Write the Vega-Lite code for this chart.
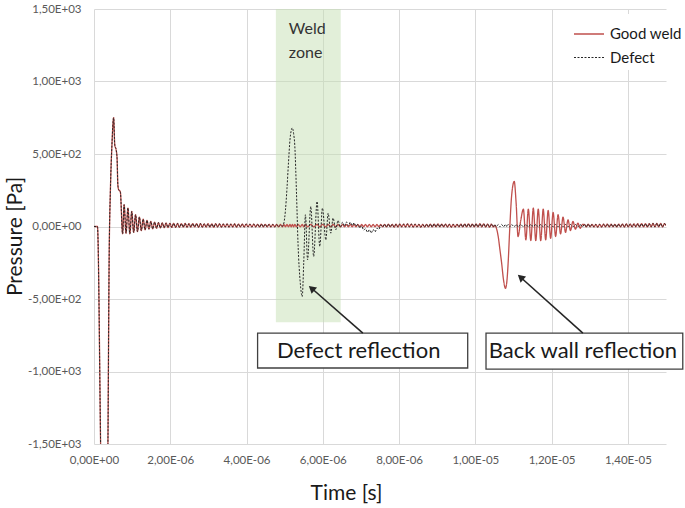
{
"$schema": "https://vega.github.io/schema/vega-lite/v6.json",
"width": 572, "height": 435,
"autosize": {"type": "none"},
"padding": {"left": 94, "top": 9, "right": 19, "bottom": 64},
"config": {"view": {"stroke": null}, "font": "Lato"},
"datasets": {
"signal": [
{"t":0,"Good weld":0,"Defect":0},
{"t":0.09e-6,"Good weld":0,"Defect":0},
{"t":0.19e-6,"Good weld":-1800,"Defect":-1800},
{"t":0.27e-6,"Good weld":-2600,"Defect":-2600},
{"t":0.355e-6,"Good weld":-1800,"Defect":-1800},
{"t":0.40e-6,"Good weld":-150,"Defect":-150},
{"t":0.43e-6,"Good weld":250,"Defect":250},
{"t":0.47e-6,"Good weld":560,"Defect":560},
{"t":0.515e-6,"Good weld":750,"Defect":750},
{"t":0.545e-6,"Good weld":560,"Defect":560},
{"t":0.58e-6,"Good weld":530,"Defect":530},
{"t":0.605e-6,"Good weld":470,"Defect":470},
{"t":0.625e-6,"Good weld":290,"Defect":290},
{"t":0.645e-6,"Good weld":255,"Defect":255},
{"t":0.69e-6,"Good weld":240,"Defect":240},
{"t":0.75e-6,"Good weld":-50,"Defect":-50},
{"t":0.79e-6,"Good weld":150,"Defect":150},
{"t":0.84e-6,"Good weld":-46,"Defect":-46},
{"t":0.89e-6,"Good weld":127,"Defect":127},
{"t":0.94e-6,"Good weld":-50,"Defect":-50},
{"t":0.99e-6,"Good weld":104,"Defect":104},
{"t":1.04e-6,"Good weld":-41,"Defect":-41},
{"t":1.09e-6,"Good weld":81,"Defect":81},
{"t":1.14e-6,"Good weld":-35,"Defect":-35},
{"t":1.19e-6,"Good weld":65,"Defect":65},
{"t":1.24e-6,"Good weld":-28,"Defect":-28},
{"t":1.29e-6,"Good weld":51,"Defect":51},
{"t":1.34e-6,"Good weld":-23,"Defect":-23},
{"t":1.39e-6,"Good weld":42,"Defect":42},
{"t":1.44e-6,"Good weld":-18,"Defect":-18},
{"t":1.49e-6,"Good weld":35,"Defect":35},
{"t":1.54e-6,"Good weld":-16,"Defect":-16},
{"t":1.59e-6,"Good weld":30,"Defect":30},
{"t":1.64e-6,"Good weld":-12,"Defect":-12},
{"t":1.69e-6,"Good weld":27,"Defect":27},
{"t":1.74e-6,"Good weld":-10,"Defect":-10},
{"t":1.79e-6,"Good weld":25,"Defect":25},
{"t":1.84e-6,"Good weld":-8,"Defect":-8},
{"t":1.89e-6,"Good weld":24,"Defect":24},
{"t":1.94e-6,"Good weld":-7,"Defect":-7},
{"t":1.99e-6,"Good weld":22,"Defect":22},
{"t":2.04e-6,"Good weld":-6,"Defect":-6},
{"t":2.09e-6,"Good weld":22,"Defect":22},
{"t":2.14e-6,"Good weld":-6,"Defect":-6},
{"t":2.19e-6,"Good weld":21,"Defect":21},
{"t":2.24e-6,"Good weld":-5,"Defect":-5},
{"t":2.29e-6,"Good weld":20,"Defect":20},
{"t":2.34e-6,"Good weld":-4,"Defect":-4},
{"t":2.39e-6,"Good weld":21,"Defect":21},
{"t":2.44e-6,"Good weld":-5,"Defect":-5},
{"t":2.49e-6,"Good weld":19,"Defect":19},
{"t":2.54e-6,"Good weld":-4,"Defect":-4},
{"t":2.59e-6,"Good weld":20,"Defect":20},
{"t":2.64e-6,"Good weld":-3,"Defect":-3},
{"t":2.69e-6,"Good weld":19,"Defect":19},
{"t":2.74e-6,"Good weld":-5,"Defect":-5},
{"t":2.79e-6,"Good weld":20,"Defect":20},
{"t":2.84e-6,"Good weld":-4,"Defect":-4},
{"t":2.89e-6,"Good weld":18,"Defect":18},
{"t":2.94e-6,"Good weld":-3,"Defect":-3},
{"t":2.99e-6,"Good weld":19,"Defect":19},
{"t":3.04e-6,"Good weld":-4,"Defect":-4},
{"t":3.09e-6,"Good weld":18,"Defect":18},
{"t":3.14e-6,"Good weld":-5,"Defect":-5},
{"t":3.19e-6,"Good weld":19,"Defect":19},
{"t":3.24e-6,"Good weld":-3,"Defect":-3},
{"t":3.29e-6,"Good weld":18,"Defect":18},
{"t":3.34e-6,"Good weld":-4,"Defect":-4},
{"t":3.39e-6,"Good weld":17,"Defect":17},
{"t":3.44e-6,"Good weld":-3,"Defect":-3},
{"t":3.49e-6,"Good weld":18,"Defect":18},
{"t":3.54e-6,"Good weld":-4,"Defect":-4},
{"t":3.59e-6,"Good weld":17,"Defect":17},
{"t":3.64e-6,"Good weld":-3,"Defect":-3},
{"t":3.69e-6,"Good weld":18,"Defect":18},
{"t":3.74e-6,"Good weld":-4,"Defect":-4},
{"t":3.79e-6,"Good weld":17,"Defect":17},
{"t":3.84e-6,"Good weld":-2,"Defect":-2},
{"t":3.89e-6,"Good weld":16,"Defect":16},
{"t":3.94e-6,"Good weld":-3,"Defect":-3},
{"t":3.99e-6,"Good weld":17,"Defect":17},
{"t":4.04e-6,"Good weld":-2,"Defect":-2},
{"t":4.09e-6,"Good weld":16,"Defect":16},
{"t":4.14e-6,"Good weld":-3,"Defect":-3},
{"t":4.19e-6,"Good weld":16,"Defect":16},
{"t":4.24e-6,"Good weld":-2,"Defect":-2},
{"t":4.29e-6,"Good weld":15,"Defect":15},
{"t":4.34e-6,"Good weld":-3,"Defect":-3},
{"t":4.39e-6,"Good weld":16,"Defect":16},
{"t":4.44e-6,"Good weld":-2,"Defect":-2},
{"t":4.49e-6,"Good weld":15,"Defect":15},
{"t":4.54e-6,"Good weld":-2,"Defect":-2},
{"t":4.59e-6,"Good weld":15,"Defect":15},
{"t":4.64e-6,"Good weld":-3,"Defect":-3},
{"t":4.69e-6,"Good weld":14,"Defect":14},
{"t":4.74e-6,"Good weld":-2,"Defect":-2},
{"t":4.79e-6,"Good weld":14,"Defect":14},
{"t":4.84e-6,"Good weld":-2,"Defect":-2},
{"t":4.89e-6,"Good weld":14,"Defect":10},
{"t":4.94e-6,"Good weld":-2,"Defect":2},
{"t":4.98e-6,"Good weld":14,"Defect":25},
{"t":5.02e-6,"Good weld":-2,"Defect":110},
{"t":5.06e-6,"Good weld":14,"Defect":260},
{"t":5.10e-6,"Good weld":-2,"Defect":440},
{"t":5.14e-6,"Good weld":14,"Defect":600},
{"t":5.17e-6,"Good weld":-2,"Defect":660},
{"t":5.20e-6,"Good weld":14,"Defect":680},
{"t":5.235e-6,"Good weld":-2,"Defect":640},
{"t":5.265e-6,"Good weld":14,"Defect":560},
{"t":5.31e-6,"Good weld":-2,"Defect":231},
{"t":5.35e-6,"Good weld":14,"Defect":-115},
{"t":5.41e-6,"Good weld":-2,"Defect":-391},
{"t":5.46e-6,"Good weld":14,"Defect":-484},
{"t":5.50e-6,"Good weld":-2,"Defect":-250},
{"t":5.545e-6,"Good weld":14,"Defect":81},
{"t":5.60e-6,"Good weld":-2,"Defect":-230},
{"t":5.685e-6,"Good weld":14,"Defect":138},
{"t":5.76e-6,"Good weld":-2,"Defect":-207},
{"t":5.85e-6,"Good weld":14,"Defect":173},
{"t":5.92e-6,"Good weld":-2,"Defect":-138},
{"t":5.99e-6,"Good weld":14,"Defect":127},
{"t":6.08e-6,"Good weld":-2,"Defect":-92},
{"t":6.14e-6,"Good weld":14,"Defect":92},
{"t":6.21e-6,"Good weld":-2,"Defect":-46},
{"t":6.27e-6,"Good weld":14,"Defect":58},
{"t":6.34e-6,"Good weld":-2,"Defect":-23},
{"t":6.40e-6,"Good weld":14,"Defect":41},
{"t":6.46e-6,"Good weld":-2,"Defect":-5},
{"t":6.52e-6,"Good weld":14,"Defect":30},
{"t":6.57e-6,"Good weld":-2,"Defect":2},
{"t":6.62e-6,"Good weld":14,"Defect":32},
{"t":6.67e-6,"Good weld":-2,"Defect":5},
{"t":6.72e-6,"Good weld":14,"Defect":30},
{"t":6.77e-6,"Good weld":-2,"Defect":6},
{"t":6.82e-6,"Good weld":14,"Defect":25},
{"t":6.87e-6,"Good weld":-2,"Defect":3},
{"t":6.92e-6,"Good weld":14,"Defect":15},
{"t":6.97e-6,"Good weld":-2,"Defect":-10},
{"t":7.02e-6,"Good weld":14,"Defect":5},
{"t":7.07e-6,"Good weld":-2,"Defect":-25},
{"t":7.12e-6,"Good weld":14,"Defect":-15},
{"t":7.17e-6,"Good weld":-2,"Defect":-40},
{"t":7.22e-6,"Good weld":14,"Defect":-22},
{"t":7.27e-6,"Good weld":-2,"Defect":-45},
{"t":7.32e-6,"Good weld":14,"Defect":-20},
{"t":7.37e-6,"Good weld":-2,"Defect":-38},
{"t":7.42e-6,"Good weld":14,"Defect":-12},
{"t":7.47e-6,"Good weld":-2,"Defect":-20},
{"t":7.52e-6,"Good weld":14,"Defect":10},
{"t":7.57e-6,"Good weld":-2,"Defect":-3},
{"t":7.62e-6,"Good weld":15,"Defect":15},
{"t":7.67e-6,"Good weld":-3,"Defect":-3},
{"t":7.72e-6,"Good weld":16,"Defect":16},
{"t":7.77e-6,"Good weld":-2,"Defect":-2},
{"t":7.82e-6,"Good weld":15,"Defect":15},
{"t":7.87e-6,"Good weld":-4,"Defect":-4},
{"t":7.92e-6,"Good weld":16,"Defect":16},
{"t":7.97e-6,"Good weld":-3,"Defect":-3},
{"t":8.02e-6,"Good weld":17,"Defect":17},
{"t":8.07e-6,"Good weld":-2,"Defect":-2},
{"t":8.12e-6,"Good weld":16,"Defect":16},
{"t":8.17e-6,"Good weld":-3,"Defect":-3},
{"t":8.22e-6,"Good weld":18,"Defect":18},
{"t":8.27e-6,"Good weld":-2,"Defect":-2},
{"t":8.32e-6,"Good weld":17,"Defect":17},
{"t":8.37e-6,"Good weld":-4,"Defect":-4},
{"t":8.42e-6,"Good weld":16,"Defect":16},
{"t":8.47e-6,"Good weld":-3,"Defect":-3},
{"t":8.52e-6,"Good weld":15,"Defect":15},
{"t":8.57e-6,"Good weld":-4,"Defect":-4},
{"t":8.62e-6,"Good weld":14,"Defect":14},
{"t":8.67e-6,"Good weld":-3,"Defect":-3},
{"t":8.72e-6,"Good weld":15,"Defect":15},
{"t":8.77e-6,"Good weld":-2,"Defect":-2},
{"t":8.82e-6,"Good weld":16,"Defect":16},
{"t":8.87e-6,"Good weld":-3,"Defect":-3},
{"t":8.92e-6,"Good weld":17,"Defect":17},
{"t":8.97e-6,"Good weld":-2,"Defect":-2},
{"t":9.02e-6,"Good weld":18,"Defect":18},
{"t":9.07e-6,"Good weld":-3,"Defect":-3},
{"t":9.12e-6,"Good weld":17,"Defect":17},
{"t":9.17e-6,"Good weld":-2,"Defect":-2},
{"t":9.22e-6,"Good weld":16,"Defect":16},
{"t":9.27e-6,"Good weld":-3,"Defect":-3},
{"t":9.32e-6,"Good weld":15,"Defect":15},
{"t":9.37e-6,"Good weld":-4,"Defect":-4},
{"t":9.42e-6,"Good weld":14,"Defect":14},
{"t":9.47e-6,"Good weld":-3,"Defect":-3},
{"t":9.52e-6,"Good weld":15,"Defect":15},
{"t":9.57e-6,"Good weld":-2,"Defect":-2},
{"t":9.62e-6,"Good weld":16,"Defect":16},
{"t":9.67e-6,"Good weld":-3,"Defect":-3},
{"t":9.72e-6,"Good weld":17,"Defect":17},
{"t":9.77e-6,"Good weld":-2,"Defect":-2},
{"t":9.82e-6,"Good weld":18,"Defect":18},
{"t":9.87e-6,"Good weld":-3,"Defect":-3},
{"t":9.92e-6,"Good weld":17,"Defect":17},
{"t":9.97e-6,"Good weld":-2,"Defect":-2},
{"t":10.02e-6,"Good weld":18,"Defect":18},
{"t":10.07e-6,"Good weld":-3,"Defect":-3},
{"t":10.12e-6,"Good weld":19,"Defect":19},
{"t":10.17e-6,"Good weld":-2,"Defect":-2},
{"t":10.22e-6,"Good weld":18,"Defect":18},
{"t":10.27e-6,"Good weld":-3,"Defect":-3},
{"t":10.32e-6,"Good weld":17,"Defect":17},
{"t":10.37e-6,"Good weld":-4,"Defect":-4},
{"t":10.42e-6,"Good weld":16,"Defect":16},
{"t":10.47e-6,"Good weld":-3,"Defect":-3},
{"t":10.51e-6,"Good weld":8,"Defect":14},
{"t":10.55e-6,"Good weld":-10,"Defect":-2},
{"t":10.60e-6,"Good weld":-69,"Defect":14},
{"t":10.645e-6,"Good weld":-160,"Defect":-2},
{"t":10.69e-6,"Good weld":-253,"Defect":14},
{"t":10.74e-6,"Good weld":-370,"Defect":-2},
{"t":10.79e-6,"Good weld":-426,"Defect":14},
{"t":10.83e-6,"Good weld":-370,"Defect":-2},
{"t":10.86e-6,"Good weld":-253,"Defect":14},
{"t":10.905e-6,"Good weld":0,"Defect":-2},
{"t":10.95e-6,"Good weld":207,"Defect":14},
{"t":11.02e-6,"Good weld":311,"Defect":-2},
{"t":11.07e-6,"Good weld":161,"Defect":14},
{"t":11.12e-6,"Good weld":-69,"Defect":-2},
{"t":11.19e-6,"Good weld":40,"Defect":14},
{"t":11.26e-6,"Good weld":120,"Defect":-2},
{"t":11.325e-6,"Good weld":-92,"Defect":14},
{"t":11.39e-6,"Good weld":120,"Defect":-2},
{"t":11.455e-6,"Good weld":-97,"Defect":14},
{"t":11.52e-6,"Good weld":127,"Defect":-2},
{"t":11.585e-6,"Good weld":-97,"Defect":14},
{"t":11.65e-6,"Good weld":120,"Defect":-2},
{"t":11.715e-6,"Good weld":-97,"Defect":14},
{"t":11.78e-6,"Good weld":120,"Defect":-2},
{"t":11.845e-6,"Good weld":-92,"Defect":14},
{"t":11.91e-6,"Good weld":111,"Defect":-2},
{"t":11.975e-6,"Good weld":-81,"Defect":14},
{"t":12.04e-6,"Good weld":97,"Defect":-2},
{"t":12.105e-6,"Good weld":-69,"Defect":14},
{"t":12.17e-6,"Good weld":81,"Defect":-2},
{"t":12.235e-6,"Good weld":-51,"Defect":14},
{"t":12.30e-6,"Good weld":65,"Defect":-2},
{"t":12.365e-6,"Good weld":-41,"Defect":14},
{"t":12.43e-6,"Good weld":46,"Defect":-2},
{"t":12.495e-6,"Good weld":-28,"Defect":14},
{"t":12.56e-6,"Good weld":35,"Defect":-2},
{"t":12.625e-6,"Good weld":-18,"Defect":14},
{"t":12.69e-6,"Good weld":23,"Defect":-2},
{"t":12.75e-6,"Good weld":-12,"Defect":14},
{"t":12.81e-6,"Good weld":14,"Defect":-2},
{"t":12.86e-6,"Good weld":15,"Defect":15},
{"t":12.91e-6,"Good weld":-3,"Defect":-3},
{"t":12.96e-6,"Good weld":16,"Defect":16},
{"t":13.01e-6,"Good weld":-2,"Defect":-2},
{"t":13.06e-6,"Good weld":15,"Defect":15},
{"t":13.11e-6,"Good weld":-3,"Defect":-3},
{"t":13.16e-6,"Good weld":14,"Defect":14},
{"t":13.21e-6,"Good weld":-4,"Defect":-4},
{"t":13.26e-6,"Good weld":15,"Defect":15},
{"t":13.31e-6,"Good weld":-3,"Defect":-3},
{"t":13.36e-6,"Good weld":16,"Defect":16},
{"t":13.41e-6,"Good weld":-2,"Defect":-2},
{"t":13.46e-6,"Good weld":17,"Defect":17},
{"t":13.51e-6,"Good weld":-3,"Defect":-3},
{"t":13.56e-6,"Good weld":16,"Defect":16},
{"t":13.61e-6,"Good weld":-2,"Defect":-2},
{"t":13.66e-6,"Good weld":15,"Defect":15},
{"t":13.71e-6,"Good weld":-3,"Defect":-3},
{"t":13.76e-6,"Good weld":16,"Defect":16},
{"t":13.81e-6,"Good weld":-2,"Defect":-2},
{"t":13.86e-6,"Good weld":17,"Defect":17},
{"t":13.91e-6,"Good weld":-3,"Defect":-3},
{"t":13.96e-6,"Good weld":18,"Defect":18},
{"t":14.01e-6,"Good weld":-2,"Defect":-2},
{"t":14.06e-6,"Good weld":17,"Defect":17},
{"t":14.11e-6,"Good weld":-3,"Defect":-3},
{"t":14.16e-6,"Good weld":18,"Defect":18},
{"t":14.21e-6,"Good weld":-2,"Defect":-2},
{"t":14.26e-6,"Good weld":19,"Defect":19},
{"t":14.31e-6,"Good weld":-3,"Defect":-3},
{"t":14.36e-6,"Good weld":20,"Defect":20},
{"t":14.41e-6,"Good weld":-2,"Defect":-2},
{"t":14.46e-6,"Good weld":19,"Defect":19},
{"t":14.51e-6,"Good weld":-3,"Defect":-3},
{"t":14.56e-6,"Good weld":20,"Defect":20},
{"t":14.61e-6,"Good weld":-2,"Defect":-2},
{"t":14.66e-6,"Good weld":21,"Defect":21},
{"t":14.71e-6,"Good weld":-3,"Defect":-3},
{"t":14.76e-6,"Good weld":22,"Defect":22},
{"t":14.81e-6,"Good weld":-2,"Defect":-2},
{"t":14.86e-6,"Good weld":21,"Defect":21},
{"t":14.91e-6,"Good weld":-3,"Defect":-3},
{"t":14.96e-6,"Good weld":20,"Defect":20},
{"t":15.0e-6,"Good weld":5,"Defect":5}
],
"zone": [{"t1":4.77e-6,"t2":6.47e-6,"p1":-660,"p2":1500}],
"zonelabel": [{"t":5.11e-6,"p":1360,"label":"Weld"},{"t":5.11e-6,"p":1195,"label":"zone"}],
"boxes": [
{"t1":4.29e-6,"t2":9.80e-6,"p1":-735,"p2":-976,"tc":6.94e-6,"pc":-857,"label":"Defect reflection"},
{"t1":10.28e-6,"t2":15.44e-6,"p1":-735,"p2":-983,"tc":12.82e-6,"pc":-859,"label":"Back wall reflection"}
],
"arrows": [
{"t1":7.05e-6,"p1":-735,"t2":5.706e-6,"p2":-426},
{"t1":12.82e-6,"p1":-735,"t2":11.186e-6,"p2":-350}
]
},
"layer": [
{
"data": {"name": "zone"},
"mark": {"type": "rect", "fill": "#c6e0b4", "opacity": 0.5},
"encoding": {
"x": {"field": "t1", "type": "quantitative", "scale": {"domain": [0, 1.5e-5], "nice": false, "zero": false},
"axis": {"title": "Time [s]", "values": [0, 2e-6, 4e-6, 6e-6, 8e-6, 1e-5, 1.2e-5, 1.4e-5],
"labelExpr": "replace(replace(replace(format(datum.value,'.2e'),'.',','),'e-','E-0'),'e+','E+0')",
"grid": true, "gridColor": "#d9d9d9", "gridWidth": 1, "domain": false, "ticks": false, "labelFlush": false,
"labelFont": "Lato", "labelFontSize": 11.5, "labelColor": "#595959", "labelPadding": 10,
"titleFont": "Lato", "titleFontSize": 21, "titleFontWeight": "normal", "titleColor": "#1a1a1a",
"titleX": 252, "titleY": 49, "titleBaseline": "middle", "titleAlign": "center", "titleAnchor": null}},
"x2": {"field": "t2"},
"y": {"field": "p1", "type": "quantitative", "scale": {"domain": [-1500, 1500], "nice": false, "zero": false},
"axis": {"title": "Pressure [Pa]", "values": [-1500, -1000, -500, 0, 500, 1000, 1500],
"labelExpr": "replace(replace(replace(replace(format(datum.value,'.2e'),'.',','),'e-','E-0'),'e+','E+0'),'\u2212','-')",
"grid": true, "gridColor": "#d9d9d9", "gridWidth": 1, "domain": false, "ticks": false, "labelFlush": false,
"labelFont": "Lato", "labelFontSize": 11.5, "labelColor": "#595959", "labelPadding": 13,
"titleFont": "Lato", "titleFontSize": 21, "titleFontWeight": "normal", "titleColor": "#1a1a1a",
"titleX": -79, "titleY": 227, "titleAngle": -90, "titleBaseline": "middle", "titleAlign": "center", "titleAnchor": null}},
"y2": {"field": "p2"}
}
},
{
"data": {"name": "signal"},
"transform": [{"fold": ["Good weld", "Defect"], "as": ["series", "p"]}],
"mark": {"type": "line", "clip": true, "interpolate": "monotone"},
"encoding": {
"x": {"field": "t", "type": "quantitative", "scale": {"domain": [0, 1.5e-5], "nice": false, "zero": false}},
"y": {"field": "p", "type": "quantitative", "scale": {"domain": [-1500, 1500], "nice": false, "zero": false}},
"color": {"field": "series", "type": "nominal", "sort": ["Good weld", "Defect"],
"scale": {"domain": ["Good weld", "Defect"], "range": ["#c0504d", "#262626"]},
"legend": {"title": null, "orient": "none", "legendX": 475, "legendY": 5, "fillColor": "white", "padding": 4,
"symbolType": "stroke", "symbolSize": 900, "symbolStrokeWidth": 1.3, "labelFont": "Lato", "labelFontSize": 15,
"labelColor": "#1a1a1a", "rowPadding": -8, "labelOffset": 5}},
"strokeDash": {"field": "series", "type": "nominal", "sort": ["Good weld", "Defect"],
"scale": {"domain": ["Good weld", "Defect"], "range": [[1, 0], [2, 1.5]]},
"legend": {"title": null, "orient": "none", "legendX": 475, "legendY": 5, "fillColor": "white", "padding": 4,
"symbolType": "stroke", "symbolSize": 900, "symbolStrokeWidth": 1.3, "labelFont": "Lato", "labelFontSize": 15,
"labelColor": "#1a1a1a", "rowPadding": -8, "labelOffset": 5}},
"strokeWidth": {"field": "series", "type": "nominal", "scale": {"domain": ["Good weld", "Defect"], "range": [1.3, 1]}, "legend": null}
}
},
{
"data": {"name": "boxes"},
"mark": {"type": "rect", "fill": "white", "stroke": "#404040", "strokeWidth": 1.3},
"encoding": {
"x": {"field": "t1", "type": "quantitative", "scale": {"domain": [0, 1.5e-5], "nice": false, "zero": false}},
"x2": {"field": "t2"},
"y": {"field": "p1", "type": "quantitative", "scale": {"domain": [-1500, 1500], "nice": false, "zero": false}},
"y2": {"field": "p2"}
}
},
{
"data": {"name": "boxes"},
"mark": {"type": "text", "font": "Lato", "fontSize": 22, "color": "#1a1a1a", "align": "center", "baseline": "middle"},
"encoding": {
"x": {"field": "tc", "type": "quantitative", "scale": {"domain": [0, 1.5e-5], "nice": false, "zero": false}},
"y": {"field": "pc", "type": "quantitative", "scale": {"domain": [-1500, 1500], "nice": false, "zero": false}},
"text": {"field": "label"}
}
},
{
"data": {"name": "arrows"},
"mark": {"type": "rule", "color": "#262626", "strokeWidth": 1.6},
"encoding": {
"x": {"field": "t1", "type": "quantitative", "scale": {"domain": [0, 1.5e-5], "nice": false, "zero": false}},
"y": {"field": "p1", "type": "quantitative", "scale": {"domain": [-1500, 1500], "nice": false, "zero": false}},
"x2": {"field": "t2"},
"y2": {"field": "p2"}
}
},
{
"data": {"name": "arrows"},
"mark": {"type": "point", "shape": "triangle-up", "filled": true, "color": "#262626", "size": 70, "angle": 311, "opacity": 1},
"encoding": {
"x": {"field": "t2", "type": "quantitative", "scale": {"domain": [0, 1.5e-5], "nice": false, "zero": false}},
"y": {"field": "p2", "type": "quantitative", "scale": {"domain": [-1500, 1500], "nice": false, "zero": false}}
}
},
{
"data": {"name": "zonelabel"},
"mark": {"type": "text", "font": "Lato", "fontSize": 16, "color": "#333333", "align": "left", "baseline": "middle"},
"encoding": {
"x": {"field": "t", "type": "quantitative", "scale": {"domain": [0, 1.5e-5], "nice": false, "zero": false}},
"y": {"field": "p", "type": "quantitative", "scale": {"domain": [-1500, 1500], "nice": false, "zero": false}},
"text": {"field": "label"}
}
}
]
}
